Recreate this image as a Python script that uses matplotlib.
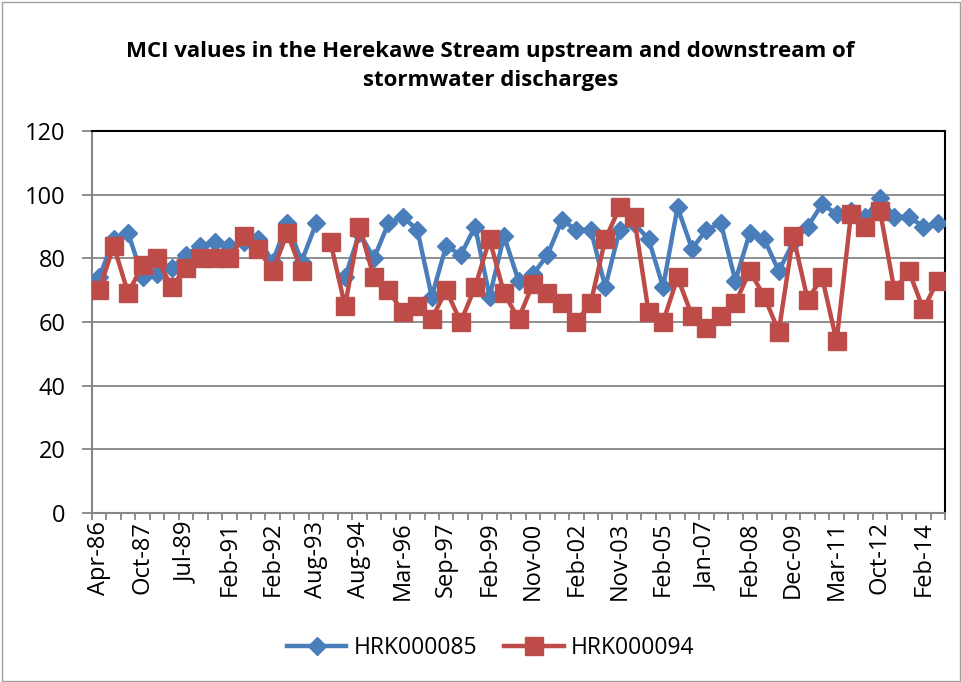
import numpy as np
import matplotlib
matplotlib.use("Agg")
import matplotlib.pyplot as plt
from matplotlib.patches import Rectangle

# ---- data ----
tick_labels = ["Apr-86", "Oct-87", "Jul-89", "Feb-91", "Feb-92", "Aug-93", "Aug-94",
               "Mar-96", "Sep-97", "Feb-99", "Nov-00", "Feb-02", "Nov-03", "Feb-05",
               "Jan-07", "Feb-08", "Dec-09", "Mar-11", "Oct-12", "Feb-14"]
n_samples = 59
label_step = 3

hrk085 = [74, 86, 88, 74, 75, 77, 81, 84, 85, 84,
          85, 86, 79, 91, 79, 91, None, 74, 88, 80,
          91, 93, 89, 68, 84, 81, 90, 68, 87, 73,
          75, 81, 92, 89, 89, 71, 89, 91, 86, 71,
          96, 83, 89, 91, 73, 88, 86, 76, 85, 90,
          97, 94, 95, 93, 99, 93, 93, 90, 91]
hrk094 = [70, 84, 69, 78, 80, 71, 77, 80, 80, 80,
          87, 83, 76, 88, 76, None, 85, 65, 90, 74,
          70, 63, 65, 61, 70, 60, 71, 86, 69, 61,
          72, 69, 66, 60, 66, 86, 96, 93, 63, 60,
          74, 62, 58, 62, 66, 76, 68, 57, 87, 67,
          74, 54, 94, 90, 95, 70, 76, 64, 73]

series_names = ["HRK000085", "HRK000094"]
title = "MCI values in the Herekawe Stream upstream and downstream of\nstormwater discharges"

def to_arr(v):
    return np.array([np.nan if x is None else x for x in v], dtype=float)

plt.rcParams['font.family'] = ['Open Sans', 'DejaVu Sans']

fig = plt.figure(figsize=(9.62, 6.82), dpi=100)
ax = fig.add_axes([92/962, 1-513/682, (945-92)/962, (513-131)/682])

x = np.arange(n_samples)
blue = '#4A7EBB'
red = '#BE4B48'
ax.plot(x, to_arr(hrk085), color=blue, lw=3.2, marker='D', markersize=9.5,
        markerfacecolor=blue, markeredgecolor=blue, label=series_names[0], zorder=3)
ax.plot(x, to_arr(hrk094), color=red, lw=3.2, marker='s', markersize=13.5,
        markerfacecolor=red, markeredgecolor='#B9504D', label=series_names[1], zorder=4)

ax.set_xlim(-0.5, n_samples - 0.5)
ax.set_ylim(0, 120)
ax.set_yticks(np.arange(0, 121, 20))
ax.grid(axis='y', color='#868686', lw=1.3, zorder=0)
ax.set_axisbelow(True)

# category boundary ticks (major) + labels at centers (minor)
ax.set_xticks(np.arange(-0.5, n_samples, 1.0))
ax.set_xticklabels([])
ax.set_xticks(np.arange(0, n_samples, label_step)[:len(tick_labels)], minor=True)
ax.set_xticklabels(tick_labels, minor=True, rotation=90, fontsize=17)
ax.tick_params(axis='x', which='major', length=5, width=1.3, color='#868686')
ax.tick_params(axis='x', which='minor', length=0, pad=6)
ax.tick_params(axis='y', length=7, width=1.3, color='#868686', labelsize=17, pad=12)

for s in ['left', 'bottom']:
    ax.spines[s].set_color('#868686')
    ax.spines[s].set_linewidth(1.5)
for s in ['top', 'right']:
    ax.spines[s].set_color('black')
    ax.spines[s].set_linewidth(1.5)

fig.text(0.51, 1-66/682, title, ha='center', va='center', fontsize=16,
         fontweight='bold', linespacing=1.5)

leg = fig.legend(loc='center', bbox_to_anchor=(0.51, 1-648/682), ncol=2, frameon=False,
                 fontsize=16.5, handlelength=2.6, columnspacing=1.2, handletextpad=0.3)

fig.add_artist(Rectangle((0.002, 0.002), 0.996, 0.995, transform=fig.transFigure,
                         fill=False, edgecolor='#A0A0A0', lw=1.0))

fig.savefig('out.png', dpi=100)
